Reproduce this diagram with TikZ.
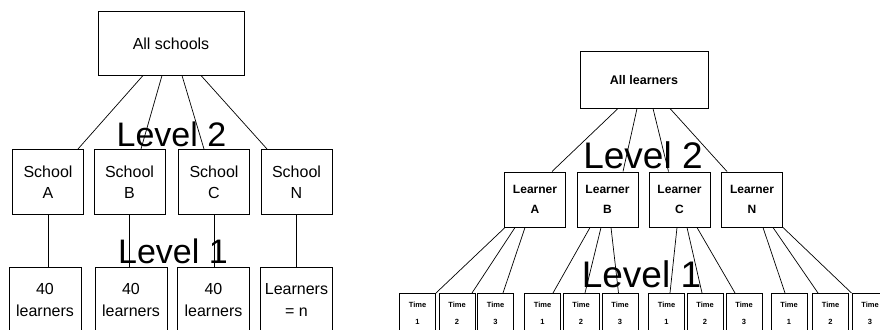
\documentclass[tikz,border=0pt]{standalone}
\usepackage{fontspec}
\setmainfont{Liberation Sans}
\usetikzlibrary{positioning}

\begin{document}
\begin{tikzpicture}[x=1pt, y=-1pt,
    box/.style={rectangle, draw, line width=1pt, align=center, inner sep=0pt},
    topbox/.style={box, font=\fontsize{16}{19}\selectfont},
    schoolbox/.style={box, minimum width=71pt, minimum height=65pt, font=\fontsize{16}{21}\selectfont},
    groupbox/.style={box, minimum width=72pt, minimum height=64pt, anchor=north, font=\fontsize{16}{22}\selectfont},
    learnerbox/.style={box, minimum width=61pt, minimum height=55pt, font=\bfseries\fontsize{12}{20}\selectfont},
    timebox/.style={box, minimum width=36pt, minimum height=40pt, anchor=north, font=\bfseries\fontsize{7.5}{17}\selectfont},
    link/.style={line width=0.7pt},
    level/.style={anchor=base, inner sep=0pt}
]
    \useasboundingbox (0,0) rectangle (880,329);
    \clip (0,0) rectangle (880,329);

    % Left tree: schools
    \node[topbox, minimum width=146pt, minimum height=63pt] (schools) at (171,43.5) {All schools};

    \node[schoolbox] (sA) at (48,182) {School\\A};
    \node[schoolbox] (sB) at (129.5,182) {School\\B};
    \node[schoolbox] (sC) at (214,182) {School\\C};
    \node[schoolbox] (sN) at (296.5,182) {School\\N};

    \node[groupbox] (gA) at (45,267) {40\\learners};
    \node[groupbox] (gB) at (131,267) {40\\learners};
    \node[groupbox] (gC) at (213.5,267) {40\\learners};
    \node[groupbox] (gN) at (296.5,267) {Learners\\= n};

    \draw[link] ([xshift=-28pt]schools.south) -- ([xshift=30pt]sA.north);
    \draw[link] ([xshift=-9pt]schools.south) -- ([xshift=11.5pt]sB.north);
    \draw[link] ([xshift=11pt]schools.south) -- ([xshift=-10pt]sC.north);
    \draw[link] ([xshift=30pt]schools.south) -- ([xshift=-29.5pt]sN.north);

    \draw[link] (sA.south) -- (sA.south |- gA.north);
    \draw[link] (sB.south) -- (sB.south |- gB.north);
    \draw[link] (sC.south) -- (sC.south |- gC.north);
    \draw[link] (sN.south) -- (sN.south |- gN.north);

    \node[level, font=\fontsize{34}{34}\selectfont] (lvlTwoL) at (171.5,146.7) {Level 2};
    \node[level, font=\fontsize{34}{34}\selectfont] (lvlOneL) at (173,263) {Level 1};

    % Right tree: learners over time
    \node[topbox, minimum width=128pt, minimum height=56pt, font=\bfseries\fontsize{12.5}{15}\selectfont] (learners) at (644,80) {All learners};

    \node[learnerbox] (lA) at (535,199.5) {Learner\\A};
    \node[learnerbox] (lB) at (607.5,199.5) {Learner\\B};
    \node[learnerbox] (lC) at (679.5,199.5) {Learner\\C};
    \node[learnerbox] (lN) at (752,199.5) {Learner\\N};

    \node[timebox] (tA1) at (417.5,293) {Time\\1};
    \node[timebox] (tA2) at (457,293) {Time\\2};
    \node[timebox] (tA3) at (495.5,293) {Time\\3};
    \node[timebox] (tB1) at (542.5,293) {Time\\1};
    \node[timebox] (tB2) at (581,293) {Time\\2};
    \node[timebox] (tB3) at (620,293) {Time\\3};
    \node[timebox] (tC1) at (666.5,293) {Time\\1};
    \node[timebox] (tC2) at (705,293) {Time\\2};
    \node[timebox] (tC3) at (744,293) {Time\\3};
    \node[timebox] (tN1) at (789,293) {Time\\1};
    \node[timebox] (tN2) at (830.5,293) {Time\\2};
    \node[timebox] (tN3) at (870,293) {Time\\3};

    \draw[link] ([xshift=-26pt]learners.south) -- ([xshift=17pt]lA.north);
    \draw[link] ([xshift=-7pt]learners.south) -- ([xshift=15.5pt]lB.north);
    \draw[link] ([xshift=9pt]learners.south) -- ([xshift=-11pt]lC.north);
    \draw[link] ([xshift=26pt]learners.south) -- ([xshift=-25pt]lN.north);

    \draw[link] ([xshift=-30pt]lA.south) -- (tA1.north east);
    \draw[link] ([xshift=-20pt]lA.south) -- ([xshift=15pt]tA2.north);
    \draw[link] ([xshift=-10pt]lA.south) -- ([xshift=7.5pt]tA3.north);

    \draw[link] ([xshift=-17.5pt]lB.south) -- ([xshift=10.5pt]tB1.north);
    \draw[link] ([xshift=-6.5pt]lB.south) -- ([xshift=4pt]tB2.north);
    \draw[link] ([xshift=3.5pt]lB.south) -- ([xshift=-1.5pt]tB3.north);

    \draw[link] ([xshift=-2.5pt]lC.south) -- ([xshift=3.5pt]tC1.north);
    \draw[link] ([xshift=7.5pt]lC.south) -- ([xshift=-3pt]tC2.north);
    \draw[link] ([xshift=17.5pt]lC.south) -- ([xshift=-9pt]tC3.north);

    \draw[link] ([xshift=11pt]lN.south) -- ([xshift=-4pt]tN1.north);
    \draw[link] ([xshift=21pt]lN.south) -- ([xshift=-12.5pt]tN2.north);
    \draw[link] (lN.south east) -- (tN3.north west);

    \node[level, font=\fontsize{37}{37}\selectfont] (lvlTwoR) at (643,168) {Level 2};
    \node[level, font=\fontsize{37}{37}\selectfont] (lvlOneR) at (641.5,287) {Level 1};

\end{tikzpicture}
\end{document}
